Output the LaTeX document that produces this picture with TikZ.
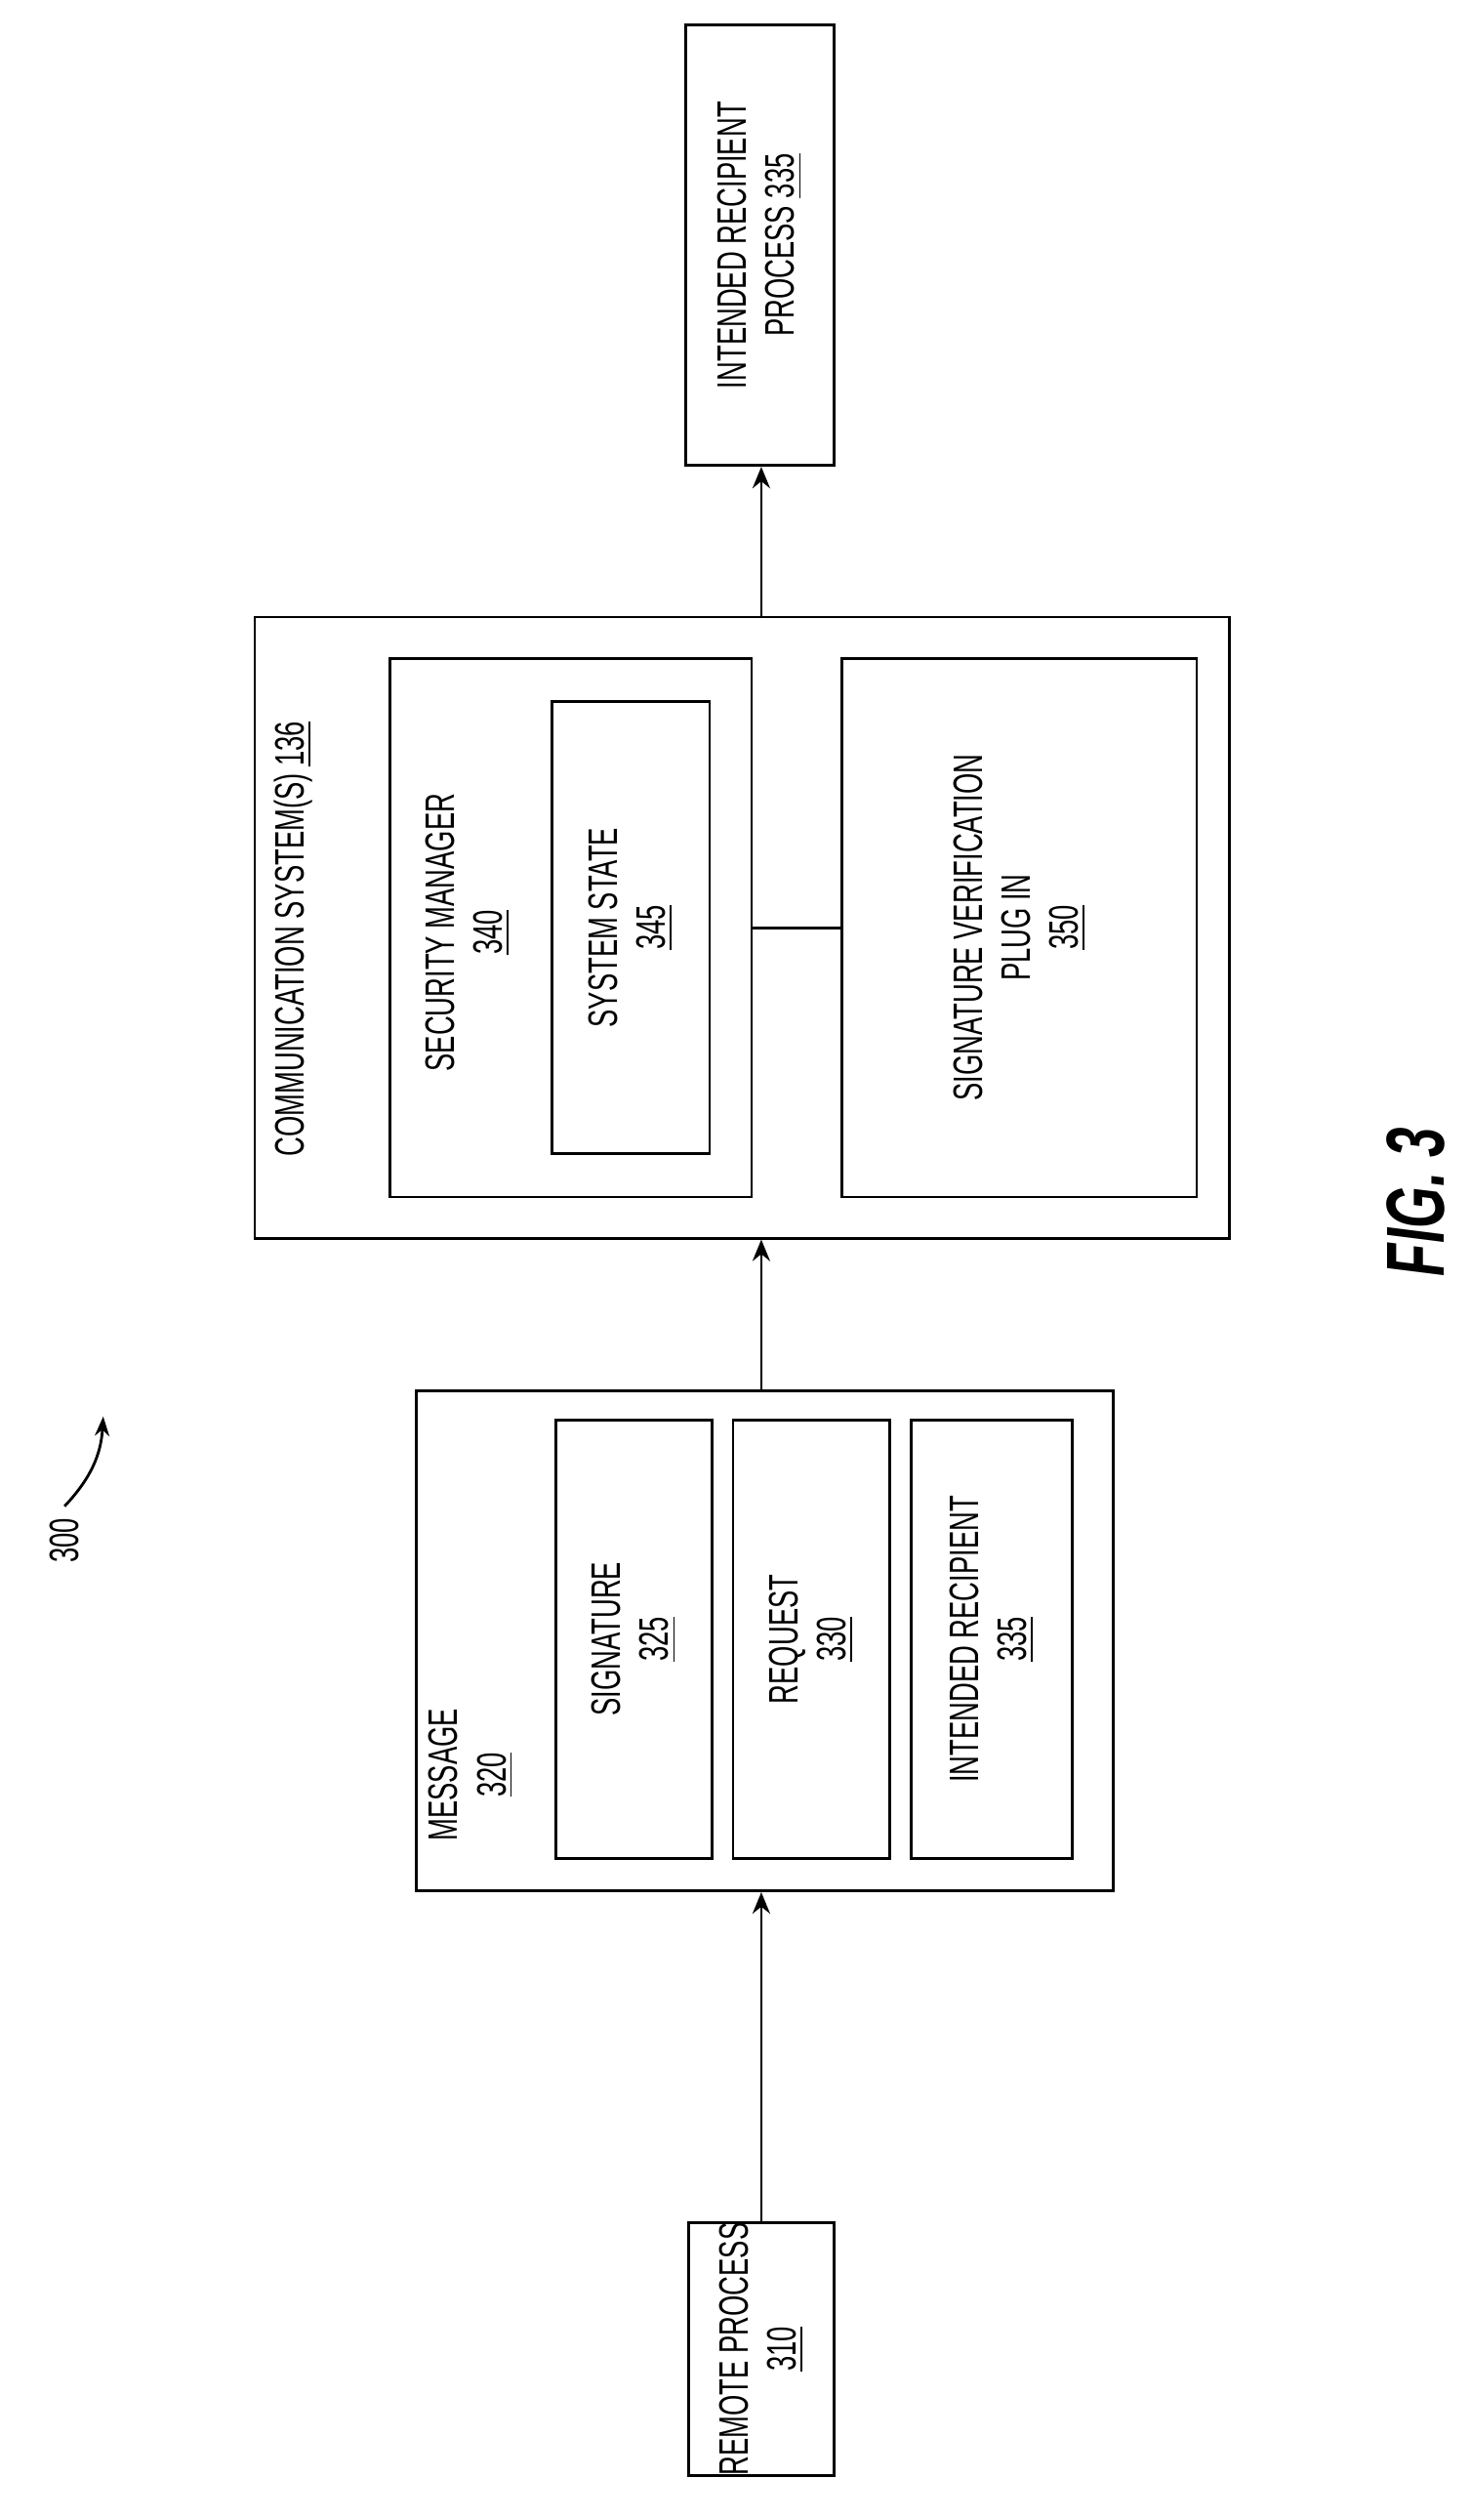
\documentclass[tikz,border=0pt]{standalone}
\usepackage{fontspec}
\setmainfont{Liberation Sans}
\newfontfamily\condfont[FakeStretch=0.65]{Liberation Sans}
\usetikzlibrary{positioning, arrows.meta}
\tikzset{
  box/.style={draw, thick, inner sep=0pt},
  lbl/.style={rotate=90, align=center, font=\condfont\fontsize{12}{14}\selectfont},
  flow/.style={-{Stealth[length=2.2mm, width=1.8mm]}, thick}
}
\begin{document}
\begin{tikzpicture}[x=0.01653cm, y=-0.01653cm]
  \useasboundingbox (0,0) rectangle (912,1562);

  % Remote process
  \node[box, minimum width=90*0.01653cm, minimum height=157*0.01653cm] (remote) at (472,1456) {};
  \node[lbl] at (remote.center) {REMOTE PROCESS\\\underline{310}};

  % Message and its parts
  \node[box, minimum width=432*0.01653cm, minimum height=310*0.01653cm] (msg) at (474,1017) {};
  \node[lbl] at (292,1100) {MESSAGE\\\underline{320}};
  \node[box, minimum width=97*0.01653cm, minimum height=272*0.01653cm] (sig) at (393,1016) {};
  \node[lbl] at (sig.center) {SIGNATURE\\\underline{325}};
  \node[box, minimum width=97*0.01653cm, minimum height=272*0.01653cm] (req) at (503,1016) {};
  \node[lbl] at (req.center) {REQUEST\\\underline{330}};
  \node[box, minimum width=100*0.01653cm, minimum height=272*0.01653cm] (irec) at (615,1016) {};
  \node[lbl] at (irec.center) {INTENDED RECIPIENT\\\underline{335}};

  % Communication system
  \node[box, minimum width=604*0.01653cm, minimum height=385*0.01653cm] (comm) at (460,575) {};
  \node[lbl] at (182,582) {COMMUNICATION SYSTEM(S) \underline{136}};
  \node[box, minimum width=224*0.01653cm, minimum height=334*0.01653cm] (secmgr) at (354,575) {};
  \node[lbl] at (290,578) {SECURITY MANAGER\\\underline{340}};
  \node[box, minimum width=98*0.01653cm, minimum height=280*0.01653cm] (state) at (391,575) {};
  \node[lbl] at (state.center) {SYSTEM STATE\\\underline{345}};
  \node[box, minimum width=220*0.01653cm, minimum height=334*0.01653cm] (plugin) at (632,575) {};
  \node[lbl] at (plugin.center) {SIGNATURE VERIFICATION\\PLUG IN\\\underline{350}};
  \draw[thick] (secmgr.east) -- (plugin.west);

  % Intended recipient process
  \node[box, minimum width=92*0.01653cm, minimum height=273*0.01653cm] (target) at (471,152) {};
  \node[lbl] at (target.center) {INTENDED RECIPIENT\\PROCESS \underline{335}};

  % Flow
  \draw[flow] (remote.north) -- (remote.north |- msg.south);
  \draw[flow] (msg.north -| remote.north) -- (remote.north |- comm.south);
  \draw[flow] (comm.north -| remote.north) -- (remote.north |- target.south);

  % Reference numeral and figure label
  \node[lbl] (ref) at (40,955) {300};
  \coordinate (refend) at (64,878);
  \draw[-{Stealth[length=2mm]}, thick] (ref.east) to[bend right=20] (refend);
  \node[rotate=90, font=\condfont\fontsize{24}{28}\selectfont\itshape\bfseries] (fig) at (878,745) {FIG. 3};
\end{tikzpicture}
\end{document}
